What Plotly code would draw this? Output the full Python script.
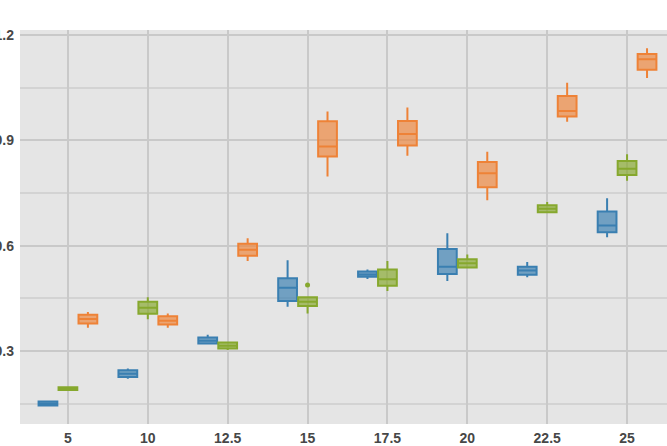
import plotly.graph_objects as go

categories = ["5", "10", "12.5", "15", "17.5", "20", "22.5", "25"]

# blue series
blue_low = [0.143, 0.221, 0.320, 0.426, 0.505, 0.499, 0.510, 0.624]
blue_q1 = [0.145, 0.226, 0.321, 0.442, 0.511, 0.519, 0.517, 0.638]
blue_med = [0.150, 0.235, 0.329, 0.480, 0.518, 0.540, 0.529, 0.657]
blue_q3 = [0.156, 0.245, 0.338, 0.507, 0.526, 0.590, 0.540, 0.697]
blue_high = [0.157, 0.250, 0.346, 0.558, 0.532, 0.635, 0.553, 0.735]

# green series
green_low = [0.189, 0.390, 0.303, 0.407, 0.471, 0.535, 0.693, 0.785]
green_q1 = [0.189, 0.406, 0.307, 0.428, 0.486, 0.538, 0.695, 0.801]
green_med = [0.193, 0.423, 0.315, 0.440, 0.504, 0.550, 0.705, 0.819]
green_q3 = [0.197, 0.440, 0.324, 0.453, 0.532, 0.561, 0.715, 0.841]
green_high = [0.197, 0.453, 0.324, 0.453, 0.556, 0.575, 0.724, 0.860]
green_outlier_cat = ["15"]
green_outlier_val = [0.488]

# orange series
orange_low = [0.366, 0.366, 0.556, 0.797, 0.856, 0.729, 0.953, 1.077]
orange_q1 = [0.378, 0.375, 0.571, 0.854, 0.885, 0.766, 0.968, 1.101]
orange_med = [0.391, 0.386, 0.588, 0.882, 0.918, 0.806, 0.983, 1.131]
orange_q3 = [0.403, 0.399, 0.605, 0.954, 0.955, 0.838, 1.026, 1.146]
orange_high = [0.411, 0.407, 0.621, 0.982, 0.993, 0.867, 1.064, 1.162]

series = [
    ("blue", blue_low, blue_q1, blue_med, blue_q3, blue_high, "#3a7fb1", "rgba(58,127,177,0.68)"),
    ("green", green_low, green_q1, green_med, green_q3, green_high, "#86a82e", "rgba(134,168,46,0.68)"),
    ("orange", orange_low, orange_q1, orange_med, orange_q3, orange_high, "#ee8237", "rgba(238,130,55,0.66)"),
]

fig = go.Figure()
for name, low, q1, med, q3, high, line_c, fill_c in series:
    fig.add_trace(go.Box(
        name=name, x=categories, lowerfence=low, q1=q1, median=med, q3=q3, upperfence=high,
        line=dict(color=line_c, width=2), fillcolor=fill_c, whiskerwidth=0,
        offsetgroup=name, showlegend=False,
    ))
    if name == "green":
        fig.add_trace(go.Scatter(
            x=green_outlier_cat, y=green_outlier_val, mode="markers",
            marker=dict(color=line_c, size=5), offsetgroup=name, showlegend=False,
        ))

tick_font = dict(family="Liberation Sans, Arial", size=14, color="#474747", weight=700)

fig.update_layout(
    width=667, height=446,
    margin=dict(l=20, r=0, t=30, b=22),
    paper_bgcolor="white", plot_bgcolor="#e5e5e5",
    boxmode="group", boxgap=0.25, boxgroupgap=0.06, scattermode="group",
    font=dict(family="Liberation Sans, Arial", size=14, color="#474747"),
)
fig.update_xaxes(
    type="category", categoryorder="array", categoryarray=categories,
    range=[-0.6, 7.5], showgrid=True, gridcolor="#c9c9c9", gridwidth=1.5,
    zeroline=False, tickfont=tick_font, automargin=False, ticklabelstandoff=4,
)
fig.update_yaxes(
    range=[0.092, 1.214], tick0=0.3, dtick=0.3, showgrid=True, gridcolor="#c9c9c9", gridwidth=1.5,
    minor=dict(dtick=0.15, tick0=0.15, showgrid=True, gridcolor="#d3d3d3", gridwidth=1.5),
    zeroline=False, tickfont=tick_font, automargin=False, tickformat=".1f", ticklabelstandoff=5,
)

# page body has a default 8px margin; remove it so the figure sits at the window corner
fig.write_html("out.html", config={"displayModeBar": False},
               post_script="document.body.style.margin='0';")
